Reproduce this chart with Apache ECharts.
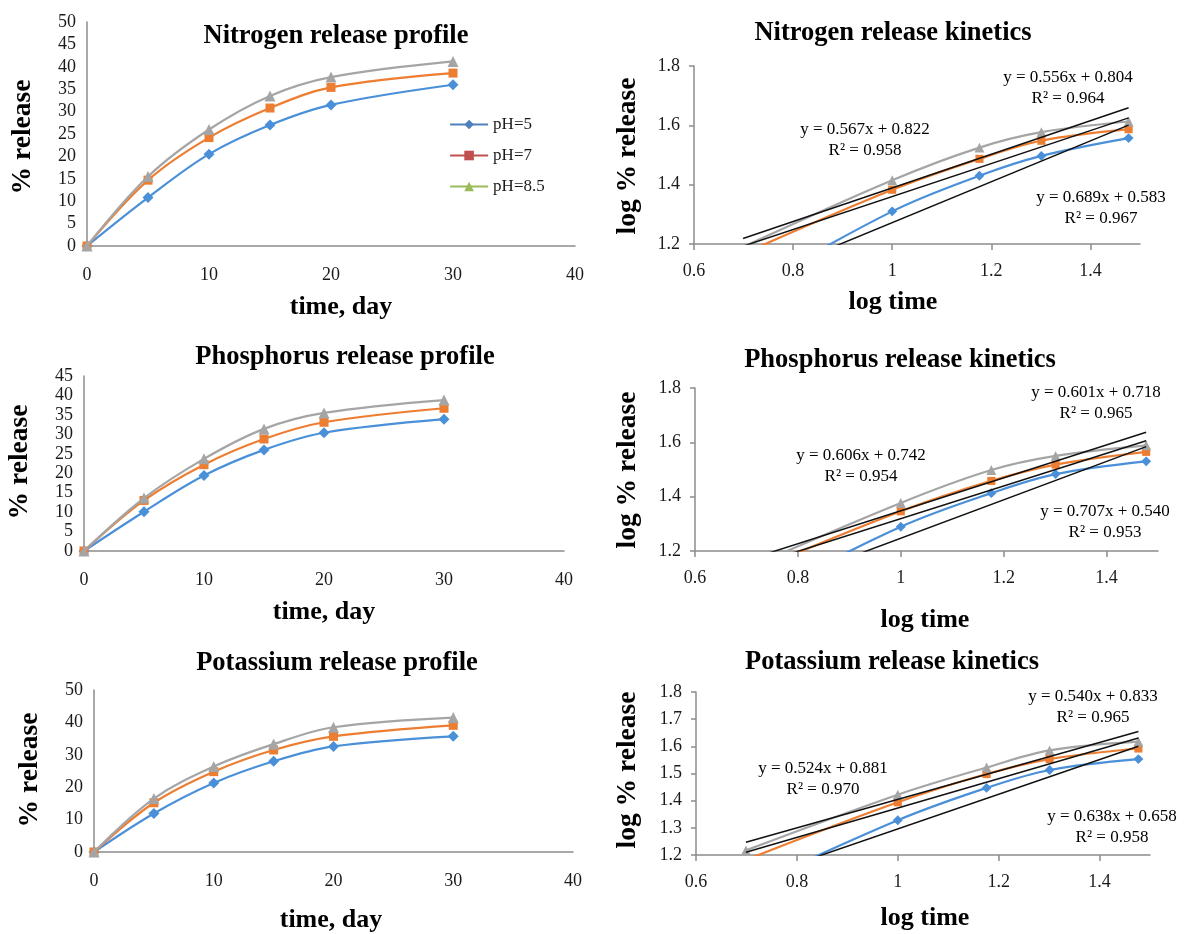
<!DOCTYPE html>
<html>
<head>
<meta charset="utf-8">
<script src="https://cdn.jsdelivr.net/npm/echarts@6/dist/echarts.min.js"></script>
<style>
  html, body { margin: 0; padding: 0; background: #fff; }
  #chart { width: 1186px; height: 934px; }
</style>
</head>
<body>
<div id="chart"></div>
<script>
// ---- data ----
const phNames = ['pH=5', 'pH=7', 'pH=8.5'];
const days = [0, 5, 10, 15, 20, 30];
const logDays = [0.699, 1, 1.176, 1.301, 1.477];

// cumulative % release
const nitrogenPH5 = [0, 10.8, 20.5, 27.0, 31.5, 36.0];
const nitrogenPH7 = [0, 14.7, 24.2, 30.8, 35.4, 38.6];
const nitrogenPH85 = [0, 15.5, 26.0, 33.5, 37.7, 41.2];
const phosphorusPH5 = [0, 10.1, 19.4, 26.0, 30.4, 33.9];
const phosphorusPH7 = [0, 13.0, 22.2, 28.8, 33.1, 36.7];
const phosphorusPH85 = [0, 13.6, 23.7, 31.4, 35.5, 38.8];
const potassiumPH5 = [0, 11.9, 21.3, 28.0, 32.6, 35.7];
const potassiumPH7 = [0, 15.2, 24.8, 31.5, 35.7, 39.1];
const potassiumPH85 = [0, 16.5, 26.4, 33.3, 38.5, 41.5];

// log % release against log time
const nitrogenLogPH5 = [1.033, 1.310, 1.430, 1.497, 1.557];
const nitrogenLogPH7 = [1.167, 1.383, 1.487, 1.548, 1.587];
const nitrogenLogPH85 = [1.190, 1.415, 1.525, 1.577, 1.613];
const phosphorusLogPH5 = [1.004, 1.289, 1.413, 1.483, 1.530];
const phosphorusLogPH7 = [1.114, 1.346, 1.458, 1.518, 1.565];
const phosphorusLogPH85 = [1.134, 1.377, 1.498, 1.550, 1.589];
const potassiumLogPH5 = [1.076, 1.328, 1.447, 1.513, 1.553];
const potassiumLogPH7 = [1.182, 1.394, 1.498, 1.553, 1.592];
const potassiumLogPH85 = [1.217, 1.422, 1.522, 1.585, 1.617];

// linear fits (pH=5, pH=7, pH=8.5)
const nitrogenSlope = [0.689, 0.556, 0.567];
const nitrogenIntercept = [0.583, 0.804, 0.822];
const nitrogenR2 = [0.967, 0.964, 0.958];
const phosphorusSlope = [0.707, 0.601, 0.606];
const phosphorusIntercept = [0.540, 0.718, 0.742];
const phosphorusR2 = [0.953, 0.965, 0.954];
const potassiumSlope = [0.638, 0.540, 0.524];
const potassiumIntercept = [0.658, 0.833, 0.881];
const potassiumR2 = [0.958, 0.965, 0.970];

const kineticsXTicks = [0.6, 0.8, 1, 1.2, 1.4];

// ---- styling ----
const FONT = '"Liberation Serif", "Times New Roman", serif';
const seriesColors = ['#4A90D9', '#ED7D31', '#A5A5A5'];
const legendColors = ['#4F81BD', '#C0504D', '#9BBB59'];
const symbols = ['diamond', 'rect', 'triangle'];
const symbolSizes = [11, 9, 11];
const AXIS_COLOR = '#8C8C8C';
const LABEL_COLOR = '#1a1a1a';

const grids = [
  { left: 87, top: 22, width: 488, height: 224 },   // N profile
  { left: 694, top: 66, width: 446, height: 178 },  // N kinetics
  { left: 84, top: 376, width: 480, height: 175 },  // P profile
  { left: 695, top: 388, width: 463, height: 163 }, // P kinetics
  { left: 94, top: 690, width: 479, height: 162 },  // K profile
  { left: 696, top: 692, width: 454, height: 163 }  // K kinetics
];

const xAxes = [];
const yAxes = [];
const series = [];

function profileAxes(yMax, yInterval) {
  xAxes.push({
    type: 'value', gridIndex: xAxes.length, min: 0, max: 40, interval: 10,
    axisLine: { show: true, lineStyle: { color: AXIS_COLOR, width: 1.5 } },
    axisTick: { show: false }, splitLine: { show: false },
    axisLabel: { margin: 20, fontFamily: FONT, fontSize: 18, color: LABEL_COLOR }
  });
  yAxes.push({
    type: 'value', gridIndex: yAxes.length, min: 0, max: yMax, interval: yInterval,
    axisLine: { show: true, lineStyle: { color: AXIS_COLOR, width: 1.5 } },
    axisTick: { show: false }, splitLine: { show: false },
    axisLabel: { margin: 11, fontFamily: FONT, fontSize: 18, color: LABEL_COLOR }
  });
}

function kineticsAxes(yInterval) {
  xAxes.push({
    type: 'value', gridIndex: xAxes.length, min: 0.6, max: 1.5, interval: 0.2,
    axisLine: { show: true, lineStyle: { color: AXIS_COLOR, width: 1.5 } },
    axisTick: { show: true, length: 6, customValues: kineticsXTicks, lineStyle: { color: AXIS_COLOR, width: 1.5 } },
    splitLine: { show: false },
    axisLabel: { margin: 18, customValues: kineticsXTicks, fontFamily: FONT, fontSize: 18, color: LABEL_COLOR }
  });
  yAxes.push({
    type: 'value', gridIndex: yAxes.length, min: 1.2, max: 1.8, interval: yInterval,
    axisLine: { show: true, lineStyle: { color: AXIS_COLOR, width: 1.5 } },
    axisTick: { show: true, length: 5, lineStyle: { color: AXIS_COLOR, width: 1.5 } },
    splitLine: { show: false },
    axisLabel: { margin: 14, fontFamily: FONT, fontSize: 18, color: LABEL_COLOR }
  });
}

function addMeasured(idx, xs, sets, symbolScale) {
  sets.forEach((vals, i) => {
    series.push({
      type: 'line', name: phNames[i], xAxisIndex: idx, yAxisIndex: idx,
      data: xs.map((x, j) => [x, vals[j]]),
      smooth: 0.35, clip: true,
      symbol: symbols[i], symbolSize: symbolSizes[i] * symbolScale,
      lineStyle: { color: seriesColors[i], width: 2.2 },
      itemStyle: { color: seriesColors[i] },
      z: 3 + i
    });
  });
}

function addFits(idx, slopes, intercepts) {
  const x0 = logDays[0], x1 = logDays[logDays.length - 1];
  slopes.forEach((a, i) => {
    const b = intercepts[i];
    series.push({
      type: 'line', name: 'fit ' + phNames[i], xAxisIndex: idx, yAxisIndex: idx,
      data: [[x0, a * x0 + b], [x1, a * x1 + b]],
      symbol: 'none', clip: true, silent: true,
      lineStyle: { color: '#111', width: 1.5 }, z: 8
    });
  });
}

profileAxes(50, 5);
kineticsAxes(0.2);
profileAxes(45, 5);
kineticsAxes(0.2);
profileAxes(50, 10);
kineticsAxes(0.1);

addMeasured(0, days, [nitrogenPH5, nitrogenPH7, nitrogenPH85], 1);
addMeasured(1, logDays, [nitrogenLogPH5, nitrogenLogPH7, nitrogenLogPH85], 0.9);
addFits(1, nitrogenSlope, nitrogenIntercept);
addMeasured(2, days, [phosphorusPH5, phosphorusPH7, phosphorusPH85], 1);
addMeasured(3, logDays, [phosphorusLogPH5, phosphorusLogPH7, phosphorusLogPH85], 0.9);
addFits(3, phosphorusSlope, phosphorusIntercept);
addMeasured(4, days, [potassiumPH5, potassiumPH7, potassiumPH85], 1);
addMeasured(5, logDays, [potassiumLogPH5, potassiumLogPH7, potassiumLogPH85], 0.9);
addFits(5, potassiumSlope, potassiumIntercept);

// ---- text: titles, axis names, fit equations ----
const graphic = [];
function text(str, x, y, size, bold, rotate) {
  graphic.push({
    type: 'text', x: x, y: y, rotation: rotate ? Math.PI / 2 : 0, silent: true,
    style: {
      text: str, fill: '#000',
      font: (bold ? 'bold ' : '') + size + 'px ' + FONT,
      textAlign: 'center', textVerticalAlign: 'middle'
    }
  });
}

const TITLE = 26.5, AXT = 26, AXT_V = 27.5, EQ = 17;
text('Nitrogen release profile', 336, 36, TITLE, true);
text('Nitrogen release kinetics', 893, 33, TITLE, true);
text('Phosphorus release profile', 345, 357, TITLE, true);
text('Phosphorus release kinetics', 900, 360, TITLE, true);
text('Potassium release profile', 337, 663, TITLE, true);
text('Potassium release kinetics', 892, 662, TITLE, true);

text('time, day', 341, 307, AXT, true);
text('time, day', 324, 612, AXT, true);
text('time, day', 331, 920, AXT, true);
text('log time', 893, 302, AXT, true);
text('log time', 925, 620, AXT, true);
text('log time', 925, 918, AXT, true);

text('% release', 23, 137, AXT_V, true, true);
text('% release', 20, 462, AXT_V, true, true);
text('% release', 30, 770, AXT_V, true, true);
text('log % release', 628, 156, AXT_V, true, true);
text('log % release', 628, 470, AXT_V, true, true);
text('log % release', 628, 770, AXT_V, true, true);

function fitLabel(slope, intercept, r2, i, cx, cy) {
  text('y = ' + slope[i].toFixed(3) + 'x + ' + intercept[i].toFixed(3), cx, cy, EQ, false);
  text('R\u00b2 = ' + r2[i].toFixed(3), cx, cy + 21, EQ, false);
}
// label anchors (centre of the equation line) for pH=5, pH=7, pH=8.5
fitLabel(nitrogenSlope, nitrogenIntercept, nitrogenR2, 0, 1101, 198);
fitLabel(nitrogenSlope, nitrogenIntercept, nitrogenR2, 1, 1068, 78);
fitLabel(nitrogenSlope, nitrogenIntercept, nitrogenR2, 2, 865, 130);
fitLabel(phosphorusSlope, phosphorusIntercept, phosphorusR2, 0, 1105, 512);
fitLabel(phosphorusSlope, phosphorusIntercept, phosphorusR2, 1, 1096, 393);
fitLabel(phosphorusSlope, phosphorusIntercept, phosphorusR2, 2, 861, 456);
fitLabel(potassiumSlope, potassiumIntercept, potassiumR2, 0, 1112, 817);
fitLabel(potassiumSlope, potassiumIntercept, potassiumR2, 1, 1093, 697);
fitLabel(potassiumSlope, potassiumIntercept, potassiumR2, 2, 823, 769);

const chart = echarts.init(document.getElementById('chart'), null, { renderer: 'canvas' });
chart.setOption({
  backgroundColor: '#ffffff',
  animation: false,
  grid: grids.map(g => Object.assign({ containLabel: false, outerBoundsMode: 'none' }, g)),
  xAxis: xAxes,
  yAxis: yAxes,
  legend: {
    orient: 'vertical', left: 444, top: 111,
    itemWidth: 38, itemHeight: 12, itemGap: 14,
    textStyle: { fontFamily: FONT, fontSize: 17, color: LABEL_COLOR },
    data: phNames.map((n, i) => ({
      name: n,
      itemStyle: { color: legendColors[i] },
      lineStyle: { color: legendColors[i], width: 2.2 }
    }))
  },
  series: series,
  graphic: graphic
});
</script>
</body>
</html>
